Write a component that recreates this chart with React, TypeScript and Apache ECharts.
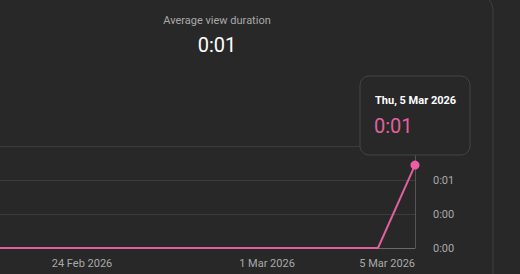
import React, { useEffect, useRef } from "react";
import * as echarts from "echarts";

const dates = [
  "21 Feb 2026", "22 Feb 2026", "23 Feb 2026", "24 Feb 2026", "25 Feb 2026",
  "26 Feb 2026", "27 Feb 2026", "28 Feb 2026", "1 Mar 2026", "2 Mar 2026",
  "3 Mar 2026", "4 Mar 2026", "5 Mar 2026",
];
const durations = [0, 0, 0, 0, 0, 0, 0, 0, 0, 0, 0, 0, 1.22];
const shownLabels = ["24 Feb 2026", "1 Mar 2026", "5 Mar 2026"];
const titleText = "Average view duration";
const totalText = "0:01";
const tooltipDate = "Thu, 5 Mar 2026";
const tooltipValue = "0:01";

const OFF = 29; // chart canvas starts this many px left of the page

const fmt = (v: number) => {
  const s = Math.floor(v + 1e-9);
  const m = Math.floor(s / 60);
  const ss = s % 60;
  return `${m}:${ss < 10 ? "0" : ""}${ss}`;
};

export default function App() {
  const ref = useRef<HTMLDivElement>(null);
  useEffect(() => {
    if (!ref.current) return;
    const chart = echarts.init(ref.current, null, { renderer: "svg" });
    const font = "Roboto, 'Noto Sans', sans-serif";
    chart.setOption({
      animation: false,
      backgroundColor: "#282828",
      textStyle: { fontFamily: font },
      grid: { left: 0, right: 105, top: 146, bottom: 26 },
      xAxis: {
        type: "category",
        data: dates,
        boundaryGap: false,
        axisLine: { show: true, lineStyle: { color: "#6a6a6a", width: 1 } },
        axisTick: { show: false },
        splitLine: { show: false },
        axisLabel: {
          color: "#a8a8a8",
          fontSize: 11,
          fontFamily: font,
          margin: 10,
          interval: (i: number, v: string) => shownLabels.includes(v),
          alignMaxLabel: "right",
        },
      },
      yAxis: {
        type: "value",
        position: "right",
        min: 0,
        max: 1.5,
        interval: 0.5,
        axisLine: { show: false },
        axisTick: { show: false },
        splitLine: { show: true, lineStyle: { color: "#3c3c3c", width: 1 } },
        axisLabel: {
          color: "#a8a8a8",
          fontSize: 11,
          fontFamily: font,
          margin: 18,
          formatter: (v: number) => fmt(v),
        },
      },
      series: [
        {
          type: "line",
          data: durations,
          lineStyle: { color: "#e0609f", width: 2 },
          itemStyle: { color: "#ec5fa6" },
          symbol: "circle",
          symbolSize: (v: number, p: any) => (p.dataIndex === durations.length - 1 ? 9 : 0),
          showSymbol: true,
          z: 3,
          markLine: {
            silent: true,
            symbol: "none",
            label: { show: false },
            lineStyle: { color: "#555555", type: "solid", width: 1 },
            data: [{ xAxis: dates[dates.length - 1] }],
            z: 1,
          },
        },
      ],
      graphic: [
        {
          type: "rect",
          shape: { x: -40 + OFF, y: -6, width: 533, height: 300, r: 16 },
          style: { fill: "none", stroke: "#3e3e3e", lineWidth: 1 },
          z: 50,
        },
        {
          type: "text",
          x: 217 + OFF,
          y: 20,
          style: {
            text: titleText,
            fill: "#a8a8a8",
            font: `11px ${font}`,
            textAlign: "center",
            textVerticalAlign: "middle",
          },
          z: 60,
        },
        {
          type: "text",
          x: 217 + OFF,
          y: 45,
          style: {
            text: totalText,
            fill: "#ffffff",
            font: `20px ${font}`,
            textAlign: "center",
            textVerticalAlign: "middle",
          },
          z: 60,
        },
        {
          type: "rect",
          shape: { x: 360 + OFF, y: 76, width: 110, height: 79, r: 9 },
          style: { fill: "#282828", stroke: "#444444", lineWidth: 1 },
          z: 100,
        },
        {
          type: "text",
          x: 375 + OFF,
          y: 100,
          style: {
            text: tooltipDate,
            fill: "#ffffff",
            font: `bold 11px ${font}`,
            textAlign: "left",
            textVerticalAlign: "middle",
          },
          z: 101,
        },
        {
          type: "text",
          x: 374 + OFF,
          y: 126,
          style: {
            text: tooltipValue,
            fill: "#e0609f",
            font: `20px ${font}`,
            textAlign: "left",
            textVerticalAlign: "middle",
          },
          z: 101,
        },
      ],
    });
    return () => chart.dispose();
  }, []);
  return (
    <div
      ref={ref}
      style={{ position: "fixed", left: -OFF, top: 0, width: 520 + OFF, height: 274 }}
    />
  );
}
